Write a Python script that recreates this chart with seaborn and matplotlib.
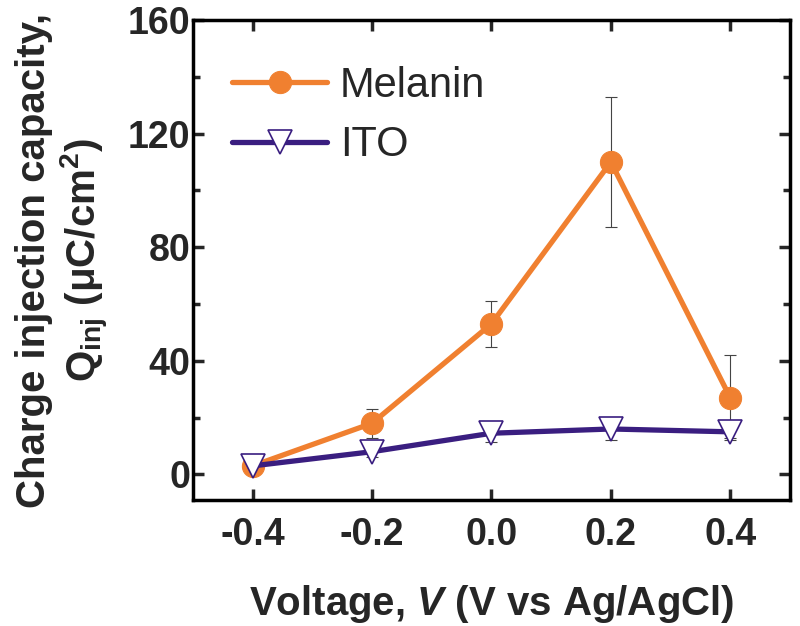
import numpy as np
import pandas as pd
import matplotlib
matplotlib.use("Agg")
import matplotlib.pyplot as plt
import seaborn as sns
from matplotlib.ticker import MultipleLocator

voltage = [-0.4, -0.2, 0.0, 0.2, 0.4]
melanin = [3, 18, 53, 110, 27]
melanin_err = [3, 5, 8, 23, 15]
ito = [3, 8, 14.5, 16, 15]
ito_err = [2, 2, 3, 4, 2]
series_names = ["Melanin", "ITO"]

sns.set_style("ticks")
plt.rcParams['font.family'] = ['Liberation Sans', 'DejaVu Sans']
plt.rcParams['mathtext.fontset'] = 'custom'
plt.rcParams['mathtext.rm'] = 'Liberation Sans:bold'
plt.rcParams['mathtext.it'] = 'Liberation Sans:bold:italic'
plt.rcParams['mathtext.bf'] = 'Liberation Sans:bold'

df = pd.DataFrame({
    "Voltage": voltage * 2,
    "Q": melanin + ito,
    "Series": [series_names[0]] * 5 + [series_names[1]] * 5,
})

fig = plt.figure(figsize=(8, 6.26), dpi=100)
ax = fig.add_axes([0.241, 0.2013, 0.7465, 0.7667])

orange = "#F08030"
purple = "#3A1E80"

ax.errorbar(voltage, melanin, yerr=melanin_err, fmt="none", ecolor="#444444",
            elinewidth=0.8, capsize=4, capthick=0.8, zorder=1)
ax.errorbar(voltage, ito, yerr=ito_err, fmt="none", ecolor="#444444",
            elinewidth=0.8, capsize=4, capthick=0.8, zorder=1)

sns.lineplot(data=df[df.Series == "Melanin"], x="Voltage", y="Q", ax=ax,
             color=orange, linewidth=3.8, marker="o", markersize=16,
             markeredgecolor=orange, label="Melanin", zorder=3)
sns.lineplot(data=df[df.Series == "ITO"], x="Voltage", y="Q", ax=ax,
             color=purple, linewidth=3.8, marker="v", markersize=17,
             markerfacecolor="white", markeredgecolor=purple, markeredgewidth=1.2,
             label="ITO", zorder=4)

ax.set_xlim(-0.5, 0.5)
ax.set_ylim(-9, 160)
ax.set_xticks(voltage)
ax.set_xticklabels(["-0.4", "-0.2", "0.0", "0.2", "0.4"])
ax.yaxis.set_major_locator(MultipleLocator(40))
ax.yaxis.set_minor_locator(MultipleLocator(20))

for sp in ax.spines.values():
    sp.set_linewidth(2.5)
    sp.set_color("black")
ax.tick_params(which="major", direction="in", length=8, width=2.5,
               top=True, right=True, labelsize=27)
ax.tick_params(axis="y", which="major", pad=2)
ax.tick_params(axis="x", which="major", pad=12)
ax.tick_params(which="minor", direction="in", length=5, width=2.5,
               right=True)
for lab in ax.get_xticklabels() + ax.get_yticklabels():
    lab.set_fontweight("bold")

ax.set_xlabel("Voltage, $\\mathit{V}$ (V vs Ag/AgCl)", fontsize=29,
              fontweight="bold", labelpad=22)
ax.set_ylabel("Charge injection capacity,\nQ$_{\\mathrm{inj}}$ ($\\mathrm{\\mu}$C/cm$^{\\mathrm{2}}$)",
              fontsize=29, fontweight="bold", labelpad=12, linespacing=1.15)

leg = ax.legend(loc="upper left", bbox_to_anchor=(0.065, 0.905), frameon=False,
                fontsize=30, handlelength=2.3, handletextpad=0.3,
                borderaxespad=0, borderpad=0, labelspacing=0.47)

fig.savefig("out.png", dpi=100)
